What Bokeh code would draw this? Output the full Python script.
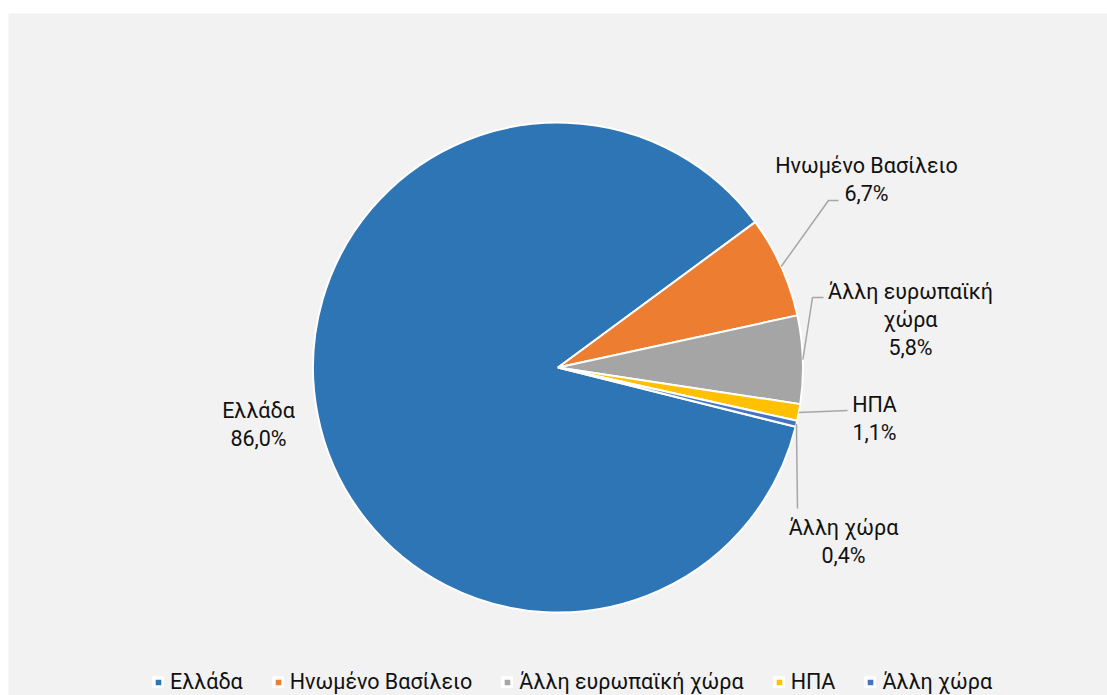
import math
from bokeh.plotting import figure
from bokeh.models import ColumnDataSource, Range1d, Legend, LegendItem
from bokeh.core.properties import value
from bokeh.embed import file_html
from bokeh.resources import INLINE

# ---- data ----
categories = ["Ελλάδα", "Ηνωμένο Βασίλειο", "Άλλη ευρωπαϊκή χώρα", "ΗΠΑ", "Άλλη χώρα"]
shares = [86.0, 6.7, 5.8, 1.1, 0.4]
colors = ["#2e75b6", "#ed7d31", "#a5a5a5", "#ffc000", "#4472c4"]

# ---- layout (page pixel coordinates) ----
W, H = 1099, 682
PAGE_BOTTOM = 695
FONT = "Roboto"
FS = "21.5px"
CX, CY, R = 557.5, 367.0, 245.0
FIRST_SLICE_ANGLE = 104.0  # degrees clockwise from 12 o'clock
label_pos = [(258, 410), (866, 165), (910, 291), (874, 404), (843, 527)]
leader_pts = [None, [(828, 200), (838, 200)], [(812, 297), (823, 297)],
              [(847, 410)], [(797, 508)]]
LINE_GAP = 28


def Y(py):
    return PAGE_BOTTOM - py


p = figure(width=W, height=H, x_range=Range1d(8, 8 + W), y_range=Range1d(0, H),
           output_backend="svg", toolbar_location=None, min_border=0,
           background_fill_color="#f2f2f2", border_fill_color="#f2f2f2",
           outline_line_color=None)
p.axis.visible = False
p.grid.visible = False
p.styles = {"margin-top": "13px", "margin-left": "8px"}

total = sum(shares)
starts, ends, mids = [], [], []
cum = 0.0
for s in shares:
    c0 = FIRST_SLICE_ANGLE + 360.0 * cum / total
    c1 = FIRST_SLICE_ANGLE + 360.0 * (cum + s) / total
    starts.append(math.radians(90 - c0))
    ends.append(math.radians(90 - c1))
    mids.append((c0 + c1) / 2)
    cum += s

src = ColumnDataSource(dict(start=starts, end=ends, color=colors, cat=categories))
p.wedge(x=CX, y=Y(CY), radius=R, start_angle="start", end_angle="end",
        direction="clock", fill_color="color", line_color="white",
        line_width=2, source=src)
# same wedges, hidden, only used to style the legend swatches (white frame)
lr = p.wedge(x=CX, y=Y(CY), radius=R, start_angle="start", end_angle="end",
             direction="clock", fill_color="color", line_color="white",
             line_width=4, source=src, visible=False)

# leader lines
for i, pts in enumerate(leader_pts):
    if pts is None:
        continue
    m = math.radians(mids[i])
    sx = CX + R * math.sin(m)
    sy = CY - R * math.cos(m)
    xs = [sx] + [q[0] for q in pts]
    ys = [Y(sy)] + [Y(q[1]) for q in pts]
    p.line(xs, ys, line_color="#a6a6a6", line_width=1.5)

# labels
tx, ty, tt = [], [], []
for i, name in enumerate(categories):
    lines = [name]
    if len(name) > 16:
        k = name.rfind(" ")
        lines = [name[:k], name[k + 1:]]
    lines.append(f"{shares[i]:.1f}".replace(".", ",") + "%")
    x0, y0 = label_pos[i]
    for j, ln in enumerate(lines):
        tx.append(x0)
        ty.append(Y(y0 + j * LINE_GAP))
        tt.append(ln)
p.text(x=tx, y=ty, text=tt, text_align="center", text_baseline="middle",
       text_font=value(FONT), text_font_size=FS, text_color="#111111")

items = [LegendItem(label=c, renderers=[lr], index=i) for i, c in enumerate(categories)]
legend = Legend(items=items, orientation="horizontal", location=(140, -3),
                background_fill_alpha=0, border_line_alpha=0,
                inactive_fill_alpha=0,
                label_text_font=FONT, label_text_font_size=FS,
                label_text_color="#111111",
                glyph_width=12, glyph_height=12, label_standoff=6,
                spacing=29, padding=4, margin=0)
p.add_layout(legend)

open("out.html", "w").write(file_html(p, INLINE))
